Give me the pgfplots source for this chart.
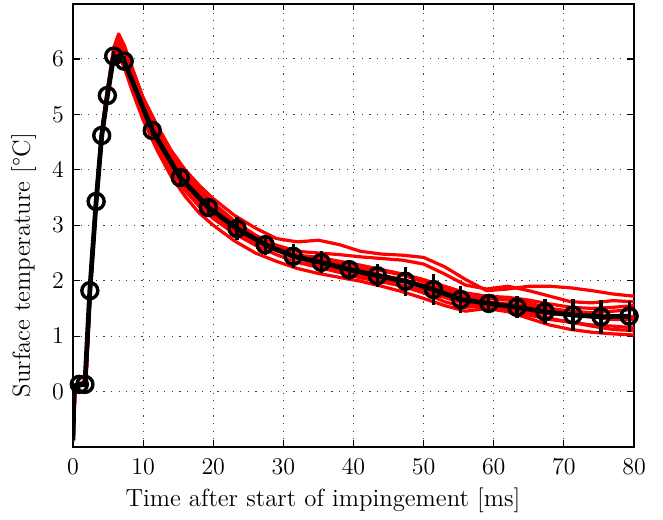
\documentclass[border=0pt]{standalone}
\usepackage{pgfplots}
\pgfplotsset{compat=1.18}
\newcommand{\lblfont}{\fontsize{12.4pt}{15pt}\selectfont}
\begin{document}
\begin{tikzpicture}
\begin{axis}[
  scale only axis, width=280.5pt, height=221.75pt,
  xmin=0, xmax=80, ymin=-1, ymax=7,
  xtick={0,10,...,80}, ytick={0,1,...,6},
  grid=major,
  major grid style={black!75, dash pattern=on 0.6pt off 3.2pt, line width=0.5pt},
  tick align=inside, major tick length=3.3pt,
  axis line style={line width=1pt},
  every tick/.style={black, line width=0.6pt},
  tick label style={font=\lblfont},
  xticklabel style={yshift=-2.5pt},
  yticklabel style={xshift=-1pt},
  label style={font=\lblfont},
  xlabel={Time after start of impingement [ms]},
  ylabel={Surface temperature [°C]},
  xlabel style={at={(axis description cs:0.4456,-0.135)}, anchor=base},
  ylabel style={at={(axis description cs:-0.088,0.41)}, anchor=center},
]
\pgfplotsset{redrun/.style={red, line width=1.6pt, no markers, line join=round}}
% red runs
\addplot[redrun] coordinates {(0,-0.80) (0.3,0.10) (1,0.12) (1.8,0.18) (2.5,2.0) (3.3,3.5) (4.1,4.7) (4.9,5.45) (5.8,6.2) (6.5,6.45) (7.3,6.25) (8.5,5.82) (10,5.3) (12,4.8) (14,4.35) (16,4.0) (18,3.72) (20,3.48) (23,3.18) (26,2.95) (29,2.76) (32,2.7) (35,2.73) (38,2.65) (41,2.53) (44,2.48) (47,2.46) (50,2.42) (53,2.25) (56,2.02) (59,1.82) (62,1.85) (65,1.9) (68,1.9) (71,1.87) (74,1.82) (77,1.76) (80,1.72)};
\addplot[redrun] coordinates {(0,-0.85) (0.3,0.08) (1,0.12) (1.8,0.15) (2.5,1.95) (3.3,3.45) (4.1,4.65) (4.9,5.4) (5.8,6.1) (6.5,6.3) (7.3,6.1) (8.5,5.7) (10,5.2) (12,4.66) (14,4.24) (16,3.88) (18,3.58) (20,3.34) (23,3.05) (26,2.82) (29,2.64) (32,2.53) (35,2.5) (38,2.47) (41,2.43) (44,2.40) (47,2.37) (50,2.3) (53,2.12) (56,1.92) (59,1.85) (62,1.9) (65,1.82) (68,1.72) (71,1.62) (74,1.6) (77,1.64) (80,1.62)};
\addplot[redrun] coordinates {(0,-0.9) (0.3,0.06) (1,0.1) (1.8,0.12) (2.5,1.85) (3.3,3.35) (4.1,4.55) (4.9,5.3) (5.8,6.0) (6.5,6.05) (7.3,5.85) (8.5,5.4) (10,4.9) (12,4.35) (14,3.88) (16,3.52) (18,3.22) (20,3.0) (23,2.72) (26,2.5) (29,2.35) (32,2.22) (35,2.13) (38,2.06) (41,1.99) (44,1.9) (47,1.8) (50,1.68) (53,1.55) (56,1.45) (59,1.5) (62,1.44) (65,1.32) (68,1.2) (71,1.12) (74,1.07) (77,1.04) (80,1.02)};
\addplot[redrun] coordinates {(0,-0.85) (0.3,0.1) (1,0.13) (1.8,0.16) (2.5,2.0) (3.3,3.48) (4.1,4.66) (4.9,5.38) (5.8,6.08) (6.5,6.2) (7.3,6.05) (8.5,5.65) (10,5.15) (12,4.6) (14,4.15) (16,3.8) (18,3.5) (20,3.3) (23,3.0) (26,2.78) (29,2.6) (32,2.45) (35,2.38) (38,2.3) (41,2.22) (44,2.18) (47,2.1) (50,1.98) (53,1.85) (56,1.72) (59,1.68) (62,1.65) (65,1.6) (68,1.5) (71,1.45) (74,1.42) (77,1.45) (80,1.48)};
\addplot[redrun] coordinates {(0,-0.85) (0.3,0.08) (1,0.12) (1.8,0.14) (2.5,1.9) (3.3,3.4) (4.1,4.6) (4.9,5.32) (5.8,6.02) (6.5,6.1) (7.3,5.92) (8.5,5.48) (10,4.98) (12,4.42) (14,3.98) (16,3.62) (18,3.34) (20,3.12) (23,2.85) (26,2.64) (29,2.47) (32,2.33) (35,2.24) (38,2.15) (41,2.05) (44,1.98) (47,1.9) (50,1.8) (53,1.7) (56,1.58) (59,1.52) (62,1.45) (65,1.38) (68,1.3) (71,1.25) (74,1.2) (77,1.18) (80,1.15)};
\addplot[redrun] coordinates {(0,-0.85) (0.3,0.1) (1,0.13) (1.8,0.15) (2.5,1.98) (3.3,3.45) (4.1,4.62) (4.9,5.36) (5.8,6.1) (6.5,6.35) (7.3,6.15) (8.5,5.72) (10,5.22) (12,4.7) (14,4.24) (16,3.86) (18,3.57) (20,3.33) (23,3.04) (26,2.8) (29,2.62) (32,2.46) (35,2.36) (38,2.28) (41,2.2) (44,2.1) (47,2.02) (50,1.92) (53,1.8) (56,1.68) (59,1.62) (62,1.58) (65,1.55) (68,1.5) (71,1.42) (74,1.35) (77,1.3) (80,1.3)};
\addplot[redrun] coordinates {(0,-0.85) (0.3,0.08) (1,0.12) (1.8,0.14) (2.5,1.92) (3.3,3.42) (4.1,4.6) (4.9,5.3) (5.8,6.0) (6.5,6.15) (7.3,5.98) (8.5,5.55) (10,5.05) (12,4.5) (14,4.05) (16,3.68) (18,3.38) (20,3.16) (23,2.9) (26,2.7) (29,2.54) (32,2.42) (35,2.3) (38,2.2) (41,2.12) (44,2.02) (47,1.92) (50,1.82) (53,1.72) (56,1.6) (59,1.55) (62,1.5) (65,1.45) (68,1.4) (71,1.38) (74,1.35) (77,1.35) (80,1.35)};
\addplot[redrun] coordinates {(0,-0.8) (0.3,0.1) (1,0.14) (1.8,0.2) (2.5,2.05) (3.3,3.52) (4.1,4.7) (4.9,5.42) (5.8,6.15) (6.5,6.42) (7.3,6.22) (8.5,5.8) (10,5.3) (12,4.78) (14,4.32) (16,3.95) (18,3.65) (20,3.4) (23,3.08) (26,2.82) (29,2.6) (32,2.4) (35,2.28) (38,2.18) (41,2.1) (44,2.0) (47,1.9) (50,1.78) (53,1.62) (56,1.52) (59,1.55) (62,1.52) (65,1.42) (68,1.32) (71,1.25) (74,1.18) (77,1.12) (80,1.1)};
\addplot[redrun] coordinates {(0,-0.85) (0.3,0.09) (1,0.12) (1.8,0.15) (2.5,1.95) (3.3,3.44) (4.1,4.63) (4.9,5.35) (5.8,6.06) (6.5,6.25) (7.3,6.05) (8.5,5.6) (10,5.08) (12,4.52) (14,4.06) (16,3.7) (18,3.41) (20,3.19) (23,2.93) (26,2.72) (29,2.55) (32,2.46) (35,2.42) (38,2.35) (41,2.28) (44,2.2) (47,2.12) (50,2.02) (53,1.9) (56,1.78) (59,1.72) (62,1.7) (65,1.65) (68,1.58) (71,1.52) (74,1.5) (77,1.52) (80,1.55)};
% mean line
\addplot[black, line width=2.4pt, no markers, line join=round] coordinates {(0,-0.88) (0.15,0.1) (0.9,0.13) (1.7,0.13) (2.4,1.82) (3.3,3.43) (4.1,4.62) (4.9,5.34) (5.8,6.05) (7.3,5.96) (11.3,4.71) (15.3,3.86) (19.3,3.32) (23.4,2.94) (27.4,2.65) (31.4,2.44) (35.4,2.33) (39.4,2.20) (43.4,2.09) (47.4,1.99) (51.4,1.84) (55.3,1.66) (59.3,1.59) (63.3,1.52) (67.3,1.44) (71.3,1.38) (75.3,1.35) (79.3,1.36)};
% markers with error bars
\addplot[black, only marks, mark=o, mark size=4pt, mark options={line width=1.7pt},
  error bars/.cd, y dir=both, y explicit, error mark=none,
  error bar style={line width=1.6pt}] coordinates {
 (0.9,0.13) +- (0,0.05)
 (1.7,0.13) +- (0,0.05)
 (2.4,1.82) +- (0,0.08)
 (3.3,3.43) +- (0,0.08)
 (4.1,4.62) +- (0,0.08)
 (4.9,5.34) +- (0,0.08)
 (5.8,6.05) +- (0,0.1)
 (7.3,5.96) +- (0,0.1)
 (11.3,4.71) +- (0,0.1)
 (15.3,3.86) +- (0,0.12)
 (19.3,3.32) +- (0,0.18)
 (23.4,2.94) +- (0,0.2)
 (27.4,2.65) +- (0,0.18)
 (31.4,2.44) +- (0,0.22)
 (35.4,2.33) +- (0,0.2)
 (39.4,2.20) +- (0,0.18)
 (43.4,2.09) +- (0,0.21)
 (47.4,1.99) +- (0,0.26)
 (51.4,1.84) +- (0,0.28)
 (55.3,1.66) +- (0,0.24)
 (59.3,1.59) +- (0,0.15)
 (63.3,1.52) +- (0,0.2)
 (67.3,1.44) +- (0,0.23)
 (71.3,1.38) +- (0,0.29)
 (75.3,1.35) +- (0,0.31)
 (79.3,1.36) +- (0,0.28)
};
\end{axis}
\path ([shift={(-36.5pt,-33pt)}]current axis.south west) rectangle ([shift={(14.5pt,1.75pt)}]current axis.north east);
\end{tikzpicture}
\end{document}
